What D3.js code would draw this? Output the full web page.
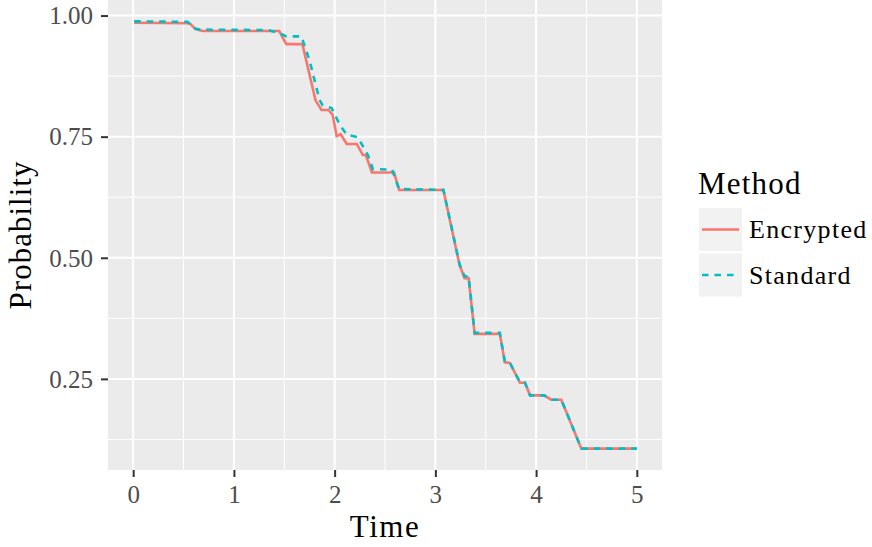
<!DOCTYPE html>
<html>
<head>
<meta charset="utf-8">
<script src="https://cdn.jsdelivr.net/npm/d3@7"></script>
<style>
  body { margin: 0; background: #fff; }
  svg text { font-family: "Liberation Serif", "DejaVu Serif", serif; }
</style>
</head>
<body>
<svg id="chart" width="872" height="547"></svg>
<script>
// series
const methods = ["Encrypted", "Standard"];
const encryptedTime = [0.01, 0.56, 0.62, 0.69, 1.45, 1.52, 1.68, 1.81, 1.87, 1.94, 1.98, 2.02, 2.06, 2.12, 2.22, 2.28, 2.31, 2.37, 2.59, 2.64, 3.08, 3.24, 3.29, 3.33, 3.39, 3.64, 3.69, 3.74, 3.84, 3.89, 3.94, 4.08, 4.15, 4.25, 4.45, 5.0];
const encryptedProb = [0.985, 0.984, 0.972, 0.968, 0.968, 0.941, 0.941, 0.825, 0.805, 0.805, 0.795, 0.751, 0.755, 0.735, 0.735, 0.712, 0.712, 0.676, 0.676, 0.640, 0.640, 0.485, 0.458, 0.458, 0.343, 0.343, 0.284, 0.283, 0.242, 0.242, 0.216, 0.216, 0.207, 0.207, 0.106, 0.106];
const standardTime = [0.01, 0.54, 0.60, 0.66, 1.34, 1.45, 1.52, 1.67, 1.75, 1.85, 1.88, 1.97, 2.05, 2.12, 2.23, 2.33, 2.38, 2.57, 2.64, 3.08, 3.24, 3.29, 3.33, 3.39, 3.64, 3.69, 3.74, 3.84, 3.89, 3.94, 4.08, 4.15, 4.25, 4.45, 5.0];
const standardProb = [0.988, 0.987, 0.974, 0.971, 0.970, 0.964, 0.957, 0.957, 0.908, 0.826, 0.815, 0.809, 0.775, 0.754, 0.749, 0.712, 0.683, 0.682, 0.642, 0.640, 0.487, 0.462, 0.462, 0.345, 0.345, 0.285, 0.283, 0.243, 0.242, 0.216, 0.216, 0.207, 0.207, 0.106, 0.106];
const xTicks = [0, 1, 2, 3, 4, 5];
const yTicks = [0.25, 0.50, 0.75, 1.00];

const colors = ["#F8766D", "#00BFC4"];
const dashes = [null, "6.5,6"];

const svg = d3.select("#chart");
const panel = { left: 108, right: 662, top: 0, bottom: 470 };

const series = [
  encryptedTime.map((t, i) => ({ t, p: encryptedProb[i] })),
  standardTime.map((t, i) => ({ t, p: standardProb[i] }))
];

// ggplot style 5% expansion
const allP = encryptedProb.concat(standardProb);
const pExt = d3.extent(allP);
const pPad = (pExt[1] - pExt[0]) * 0.05;
const x = d3.scaleLinear().domain([-0.25, 5.25]).range([panel.left, panel.right]);
const y = d3.scaleLinear().domain([pExt[0] - pPad, pExt[1] + pPad]).range([panel.bottom, panel.top]);

// panel background
svg.append("rect")
  .attr("x", panel.left).attr("y", panel.top)
  .attr("width", panel.right - panel.left).attr("height", panel.bottom - panel.top)
  .attr("fill", "#EBEBEB");

// minor grid
const xMinor = d3.range(-0.5, 5.6, 1).filter(v => v > -0.25 && v < 5.25);
const yMinor = d3.range(0.125, 1.1, 0.25).filter(v => y(v) > panel.top && y(v) < panel.bottom);
svg.append("g").selectAll("line").data(xMinor).join("line")
  .attr("x1", d => x(d)).attr("x2", d => x(d))
  .attr("y1", panel.top).attr("y2", panel.bottom)
  .attr("stroke", "#fff").attr("stroke-width", 1);
svg.append("g").selectAll("line").data(yMinor).join("line")
  .attr("x1", panel.left).attr("x2", panel.right)
  .attr("y1", d => y(d)).attr("y2", d => y(d))
  .attr("stroke", "#fff").attr("stroke-width", 1);

// major grid
svg.append("g").selectAll("line").data(xTicks).join("line")
  .attr("x1", d => x(d)).attr("x2", d => x(d))
  .attr("y1", panel.top).attr("y2", panel.bottom)
  .attr("stroke", "#fff").attr("stroke-width", 2);
svg.append("g").selectAll("line").data(yTicks).join("line")
  .attr("x1", panel.left).attr("x2", panel.right)
  .attr("y1", d => y(d)).attr("y2", d => y(d))
  .attr("stroke", "#fff").attr("stroke-width", 2);

// lines
const line = d3.line().x(d => x(d.t)).y(d => y(d.p));
series.forEach((s, i) => {
  svg.append("path")
    .datum(s)
    .attr("d", line)
    .attr("fill", "none")
    .attr("stroke", colors[i])
    .attr("stroke-width", 2.6)
    .attr("stroke-dasharray", dashes[i]);
});

// axes
const xAxis = d3.axisBottom(x).tickValues(xTicks).tickSize(7).tickPadding(6).tickFormat(d3.format("d"));
const gx = svg.append("g")
  .attr("transform", `translate(0, ${panel.bottom})`)
  .call(xAxis);
gx.select(".domain").remove();
gx.selectAll(".tick line").attr("stroke", "#333333").attr("stroke-width", 2);
gx.selectAll(".tick text")
  .style("fill", "#4D4D4D")
  .style("font-size", "25px")
  .attr("dy", "0.78em");

const yAxis = d3.axisLeft(y).tickValues(yTicks).tickSize(7).tickPadding(8).tickFormat(d3.format(".2f"));
const gy = svg.append("g")
  .attr("transform", `translate(${panel.left}, 0)`)
  .call(yAxis);
gy.select(".domain").remove();
gy.selectAll(".tick line").attr("stroke", "#333333").attr("stroke-width", 2);
gy.selectAll(".tick text")
  .style("fill", "#4D4D4D")
  .style("font-size", "25px")
  .attr("dy", "0.33em");

// axis titles
svg.append("text")
  .attr("x", (panel.left + panel.right) / 2)
  .attr("y", 537)
  .attr("text-anchor", "middle")
  .style("font-size", "31px")
  .style("letter-spacing", "1.5px")
  .style("fill", "#000")
  .text("Time");

svg.append("text")
  .attr("transform", `translate(31, ${(panel.top + panel.bottom) / 2}) rotate(-90)`)
  .attr("text-anchor", "middle")
  .style("font-size", "31px")
  .style("letter-spacing", "1px")
  .style("fill", "#000")
  .text("Probability");

// legend
const legend = svg.append("g");
legend.append("text")
  .attr("x", 698).attr("y", 194)
  .style("font-size", "31px")
  .style("letter-spacing", "1.2px")
  .style("fill", "#000")
  .text("Method");

methods.forEach((m, i) => {
  const top = 208 + i * 45.5;
  legend.append("rect")
    .attr("x", 699).attr("y", top)
    .attr("width", 43).attr("height", 43)
    .attr("fill", "#F2F2F2");
  legend.append("line")
    .attr("x1", 702).attr("x2", 739)
    .attr("y1", top + 21.5).attr("y2", top + 21.5)
    .attr("stroke", colors[i])
    .attr("stroke-width", 2.6)
    .attr("stroke-dasharray", dashes[i]);
  legend.append("text")
    .attr("x", 749).attr("y", top + 30)
    .style("font-size", "26px")
    .style("letter-spacing", "1.3px")
    .style("fill", "#000")
    .text(m);
});
</script>
</body>
</html>
